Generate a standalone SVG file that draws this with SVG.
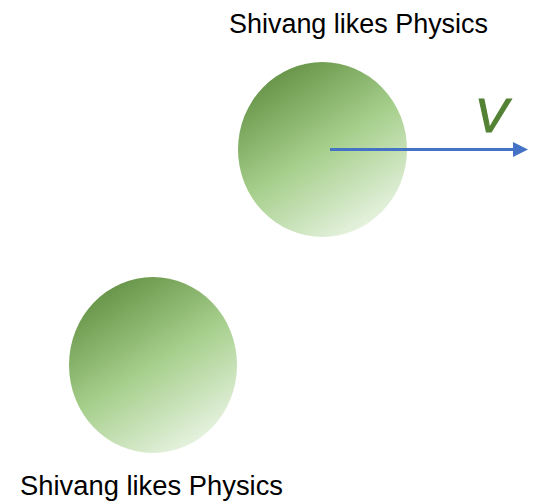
<svg xmlns="http://www.w3.org/2000/svg" width="544" height="503" viewBox="0 0 544 503">
  <defs>
    <linearGradient id="ballGrad" x1="0.2" y1="0" x2="0.8" y2="1">
      <stop offset="0" stop-color="#5f8d3f"/>
      <stop offset="0.5" stop-color="#a6cf8c"/>
      <stop offset="1" stop-color="#eff7eb"/>
    </linearGradient>
    <marker id="arrowHead" markerWidth="5" markerHeight="5" refX="0" refY="2.5" orient="auto" markerUnits="strokeWidth">
      <path d="M0,0 L5,2.5 L0,5 Z" fill="#4472c4"/>
    </marker>
    <style>
      .label { font-family: "Liberation Sans", Arial, sans-serif; font-size: 27px; fill: #000000; }
      .ball { fill: url(#ballGrad); }
      .vel { font-family: "Liberation Sans", Arial, sans-serif; font-size: 49px; font-style: italic; fill: #548235; stroke: #548235; stroke-width: 1.2px; }
    </style>
  </defs>
  <g id="ball-top">
    <ellipse class="ball" cx="322.5" cy="149.5" rx="84.5" ry="87.5"/>
    <text class="label" x="229" y="33" textLength="259" lengthAdjust="spacingAndGlyphs">Shivang likes Physics</text>
  </g>
  <g id="ball-bottom">
    <ellipse class="ball" cx="153" cy="365" rx="84" ry="88"/>
    <text class="label" x="20" y="495" textLength="263" lengthAdjust="spacingAndGlyphs">Shivang likes Physics</text>
  </g>
  <g id="connectors">
    <line x1="330" y1="149.5" x2="513" y2="149.5" stroke="#4472c4" stroke-width="3" marker-end="url(#arrowHead)"/>
  </g>
  <g id="velocity-label">
    <text class="vel" x="475" y="132">V</text>
  </g>
</svg>
